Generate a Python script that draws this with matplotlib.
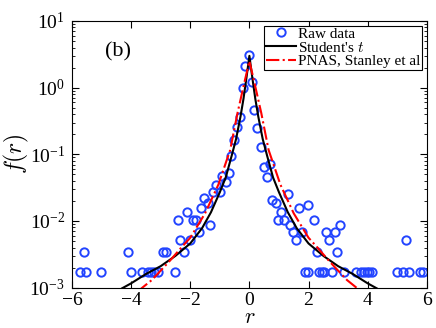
import matplotlib
matplotlib.use("Agg")
import matplotlib.pyplot as plt
from matplotlib.ticker import LogLocator, NullFormatter

plt.rcParams['font.family'] = 'serif'
plt.rcParams['font.serif'] = ['Liberation Serif', 'DejaVu Serif']
plt.rcParams['mathtext.fontset'] = 'cm'

# raw data points (r, f(r))
raw_r = [-5.73, -5.60, -5.52, -5.02, -4.12, -3.99, -3.62, -3.43, -3.33, -3.24,
         -3.09, -2.93, -2.81, -2.52, -2.42, -2.33, -2.21, -2.12, -2.00, -1.92,
         -1.81, -1.71, -1.63, -1.52, -1.41, -1.32, -1.23, -1.13, -1.01, -0.94,
         -0.78, -0.69, -0.62, -0.51, -0.42, -0.33, -0.21, -0.15, -0.02,
         0.09, 0.16, 0.26, 0.38, 0.48, 0.59, 0.70, 0.78, 0.89, 0.98,
         1.07, 1.18, 1.29, 1.38, 1.49, 1.58, 1.68, 1.79, 1.87, 1.98,
         1.99, 2.18, 2.28, 2.36, 2.44, 2.52, 2.59, 2.68, 2.80, 2.89,
         2.97, 3.08, 3.20, 3.59, 3.79, 3.88, 3.97, 4.04, 4.13, 4.98,
         5.18, 5.28, 5.38, 5.77, 5.88]
raw_f = [0.00172, 0.00344, 0.00172, 0.00172, 0.00344, 0.00172, 0.00172, 0.00172, 0.00172, 0.00172,
         0.00172, 0.00344, 0.00344, 0.00172, 0.0103, 0.0052, 0.00344, 0.0137, 0.0052, 0.0103,
         0.0103, 0.0069, 0.0155, 0.0225, 0.0188, 0.0086, 0.0273, 0.0345, 0.027, 0.048,
         0.039, 0.053, 0.096, 0.164, 0.26, 0.36, 0.98, 2.1, 3.1,
         1.23, 0.47, 0.25, 0.127, 0.064, 0.045, 0.071, 0.0206, 0.0189, 0.0103,
         0.0138, 0.0103, 0.0257, 0.0086, 0.0069, 0.0052, 0.0155, 0.0069, 0.00172, 0.00172,
         0.0172, 0.0103, 0.00344, 0.00172, 0.00172, 0.00172, 0.0069, 0.0052, 0.00172, 0.0069,
         0.00344, 0.0086, 0.00172, 0.00172, 0.00172, 0.00172, 0.00172, 0.00172, 0.00172, 0.00172,
         0.00172, 0.0052, 0.00172, 0.00172, 0.00172]

# Student's t fit
t_r = [-4.3, -4.0, -3.5, -3.0, -2.5, -2.0, -1.6, -1.3, -1.0, -0.8, -0.6, -0.45, -0.3, -0.2, -0.1, 0.0,
       0.1, 0.2, 0.3, 0.45, 0.6, 0.8, 1.0, 1.3, 1.6, 2.0, 2.5, 3.0, 3.5, 4.0, 4.3]
t_f = [0.00098, 0.00116, 0.0016, 0.0021, 0.0030, 0.0046, 0.0078, 0.0135, 0.027, 0.045, 0.095, 0.17, 0.37, 0.68, 1.4, 3.0,
       1.4, 0.68, 0.37, 0.17, 0.095, 0.045, 0.027, 0.0135, 0.0078, 0.0046, 0.0030, 0.0021, 0.0016, 0.00116, 0.00098]

# PNAS, Stanley et al curve
p_r = [-3.8, -3.62, -3.3, -3.0, -2.7, -2.3, -2.0, -1.5, -1.05, -0.65, -0.4, -0.15, 0.0,
       0.15, 0.4, 0.65, 1.05, 1.5, 2.0, 2.3, 2.7, 3.0, 3.3, 3.62, 3.8]
p_f = [0.00085, 0.001, 0.0013, 0.0018, 0.0025, 0.0040, 0.0056, 0.013, 0.035, 0.116, 0.42, 1.3, 2.5,
       1.3, 0.42, 0.116, 0.035, 0.013, 0.0056, 0.0040, 0.0025, 0.0018, 0.0013, 0.001, 0.00085]

fig = plt.figure(figsize=(4.36, 3.28), dpi=100)
ax = fig.add_axes([0.165, 0.123, 0.814, 0.813])

ax.semilogy(raw_r, raw_f, 'o', mfc='none', mec='#2244ff', mew=1.4, ms=6, label='Raw data')
ax.semilogy(t_r, t_f, '-', color='k', lw=1.5, label="Student's $t$")
ax.semilogy(p_r, p_f, '-.', color='red', lw=1.5, label='PNAS, Stanley et al')

ax.set_xlim(-6, 6)
ax.set_ylim(1e-3, 10)
ax.set_xticks([-6, -4, -2, 0, 2, 4, 6])
ax.yaxis.set_minor_locator(LogLocator(base=10, subs=range(2, 10), numticks=20))
ax.yaxis.set_minor_formatter(NullFormatter())
ax.tick_params(which='both', direction='in', top=True, right=True, labelsize=14)
ax.tick_params(which='major', length=5, width=0.8)
ax.tick_params(which='minor', length=2.5, width=0.6)
ax.tick_params(axis='x', pad=3)
ax.tick_params(axis='y', pad=5)

ax.set_xlabel('$r$', fontsize=16, labelpad=0)
ax.set_ylabel('$f(r)$', fontsize=17, labelpad=-1)
ax.text(-4.45, 3.4, '(b)', fontsize=16, ha='center', va='center')

leg = ax.legend(loc='upper right', fontsize=11, frameon=True, fancybox=False,
                edgecolor='k', framealpha=1, borderpad=0.1, labelspacing=0.0,
                handlelength=2.0, handletextpad=0.15, borderaxespad=0.3)
leg.get_frame().set_linewidth(0.8)

fig.savefig('out.png', dpi=100)
